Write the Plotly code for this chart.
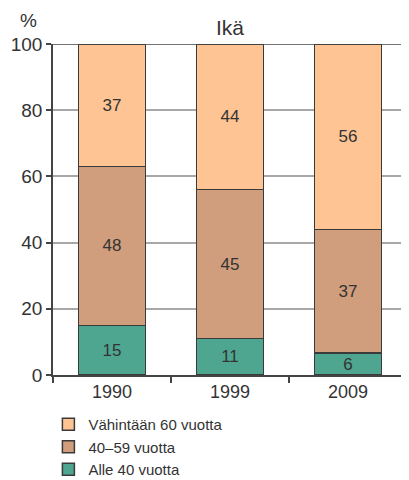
import plotly.graph_objects as go

years = ["1990", "1999", "2009"]
alle40 = [15, 11, 6.6]
mid40_59 = [48, 45, 37.4]
yli60 = [37, 44, 56]
alle40_lbl = ["15", "11", "6"]
mid40_59_lbl = ["48", "45", "37"]
yli60_lbl = ["37", "44", "56"]
names = ["Alle 40 vuotta", "40–59 vuotta", "Vähintään 60 vuotta"]
colors = ["#4EA690", "#D09D7D", "#FEC494"]

FONT = "Liberation Sans, Arial, Helvetica"

fig = go.Figure()
for vals, lbls, name, col in [(alle40, alle40_lbl, names[0], colors[0]),
                              (mid40_59, mid40_59_lbl, names[1], colors[1]),
                              (yli60, yli60_lbl, names[2], colors[2])]:
    fig.add_trace(go.Bar(
        x=years, y=vals, name=name, text=lbls, textposition="inside",
        insidetextanchor="middle", textangle=0, constraintext="none",
        textfont=dict(size=17, color="#333333", family=FONT),
        marker=dict(color=col, line=dict(color="#3a3a3a", width=1.5)),
        width=0.57, hoverinfo="skip"))

# page body has an 8px margin, so the figure is sized/placed to compensate
fig.update_layout(
    barmode="stack",
    width=401, height=472,
    margin=dict(l=45, r=2, t=36, b=105, autoexpand=False),
    paper_bgcolor="white", plot_bgcolor="white",
    font=dict(family=FONT, color="#333333", size=15),
    showlegend=True,
    legend=dict(x=-0.013, y=-0.1, xanchor="left", yanchor="top",
                traceorder="reversed", font=dict(size=15, color="#333333", family=FONT),
                itemwidth=30, tracegroupgap=0, bgcolor="rgba(0,0,0,0)"),
)
fig.update_yaxes(range=[0, 100], tickvals=[0, 20, 40, 60, 80, 100],
                 showgrid=True, gridcolor="#a8a8a8", gridwidth=1.5,
                 showline=True, linecolor="#444444", linewidth=1.5,
                 ticks="outside", ticklen=5, tickcolor="#444444", tickwidth=1.5,
                 tickfont=dict(size=19, color="#333333", family=FONT), zeroline=False,
                 automargin=False)
fig.update_xaxes(range=[-0.5, 2.5], showgrid=False, showline=True,
                 linecolor="#444444", linewidth=1.5, ticks="outside",
                 tickson="boundaries", ticklen=6, tickcolor="#444444", tickwidth=1.5,
                 tickfont=dict(size=18, color="#333333", family=FONT), automargin=False)

# frame: top and right edges
fig.add_shape(type="line", xref="paper", yref="y", x0=0, x1=1, y0=100, y1=100,
              line=dict(color="#444444", width=1.5), layer="above")
fig.add_shape(type="line", xref="paper", yref="paper", x0=1, x1=1, y0=0, y1=1,
              line=dict(color="#888888", width=1.5), layer="above")

fig.add_annotation(text="Ikä", xref="paper", yref="paper", x=0.5, y=1.0,
                   yanchor="middle", yshift=17, showarrow=False,
                   font=dict(size=21, color="#333333", family=FONT))
fig.add_annotation(text="%", xref="paper", yref="paper", x=-0.069, y=1.0,
                   xanchor="center", yanchor="middle", yshift=24, showarrow=False,
                   font=dict(size=19, color="#333333", family=FONT))

fig.write_html("out.html")
